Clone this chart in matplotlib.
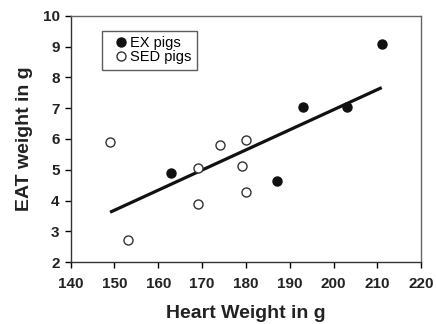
import matplotlib
matplotlib.use('Agg')
import matplotlib.pyplot as plt
import numpy as np

plt.rcParams['font.family'] = ['Liberation Sans', 'DejaVu Sans']

ex_heart = [163, 187, 193, 203, 211]
ex_eat   = [4.90, 4.62, 7.03, 7.03, 9.10]
sed_heart = [149, 153, 169, 169, 174, 179, 180, 180]
sed_eat   = [5.90, 2.73, 3.88, 5.05, 5.82, 5.13, 5.97, 4.28]

# regression line end points
fit_x = [149, 211]
fit_y = [3.62, 7.67]

fig = plt.figure(figsize=(4.36, 3.24), dpi=100)
ax = fig.add_axes([0.162, 0.191, 0.804, 0.760])

ax.plot(fit_x, fit_y, '-', color='#111111', lw=2.3, solid_capstyle='butt', zorder=2)
ax.plot(ex_heart, ex_eat, 'o', color='#111111', markersize=6.5, label='EX pigs', zorder=3)
ax.plot(sed_heart, sed_eat, 'o', mfc='white', mec='#333333', mew=1.0, markersize=6.5,
        label='SED pigs', zorder=3)

ax.set_xlim(140, 220)
ax.set_ylim(2, 10)
ax.set_xticks(np.arange(140, 221, 10))
ax.set_yticks(np.arange(2, 11, 1))
ax.tick_params(direction='out', length=4, width=1, labelsize=11)
ax.tick_params(axis='x', pad=7)
ax.tick_params(axis='y', pad=4)
for lbl in ax.get_xticklabels() + ax.get_yticklabels():
    lbl.set_fontweight('bold')
    lbl.set_color('#222222')
for s in ax.spines.values():
    s.set_linewidth(1.0)
    s.set_color('#333333')
ax.spines['top'].set_color('#666666')
ax.spines['right'].set_color('#666666')

ax.set_xlabel('Heart Weight in g', fontsize=14, fontweight='bold', color='#222222', labelpad=10)
ax.set_ylabel('EAT weight in g', fontsize=14, fontweight='bold', color='#222222', labelpad=7)

leg = ax.legend(loc='upper left', bbox_to_anchor=(0.089, 0.94), fontsize=10.5, frameon=True,
                fancybox=False, edgecolor='#333333', handletextpad=-0.3, handlelength=1.9,
                borderpad=0.35, labelspacing=0.05, borderaxespad=0)
leg.get_frame().set_linewidth(1.0)

fig.savefig('out.png', dpi=100)
